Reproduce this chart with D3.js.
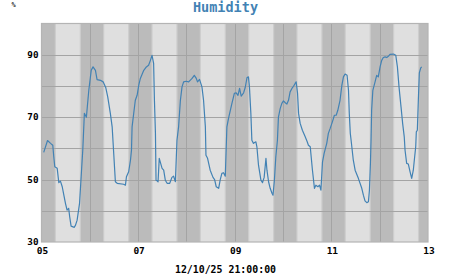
<!DOCTYPE html>
<html>
<head>
<meta charset="utf-8">
<script src="https://cdn.jsdelivr.net/npm/d3@7"></script>
<style>
  body { margin: 0; background: #fff; }
  text { font-family: "DejaVu Sans Mono", monospace; font-weight: bold; }
</style>
</head>
<body>
<script>
// base data: hours since 2025-12-05 00:00 and relative humidity (%)
const hours = [1.1, 3.0, 4.5, 5.6, 6.1, 6.6, 7.8, 8.6, 9.4, 10.3, 11.1, 11.9, 12.7, 13.5, 14.0, 14.7, 16.3, 16.9,
  17.7, 18.9, 19.8, 20.5, 21.3, 21.8, 22.3, 23.5, 24.7, 25.6, 26.8, 27.6, 29.3, 30.6, 31.9, 32.9, 34.2, 35.1,
  36.7, 37.6, 40.8, 41.7, 42.2, 43.3, 44.2, 44.7, 45.0, 46.6, 47.5, 48.3, 49.1, 50.8, 52.1, 53.2, 54.1, 54.9,
  55.7, 56.1, 56.6, 56.9, 57.4, 57.9, 58.5, 59.9, 60.7, 61.5, 62.4, 63.7, 64.8, 65.6, 66.5, 67.3, 68.1, 69.0,
  69.8, 70.6, 71.9, 73.1, 74.8, 75.9, 76.9, 77.5, 78.5, 79.7, 80.5, 81.4, 81.7, 82.5, 83.8, 85.2, 86.0, 86.8,
  88.0, 88.8, 89.6, 90.4, 91.3, 92.1, 92.9, 94.6, 95.8, 96.7, 97.6, 98.4, 99.2, 100.4, 101.2, 102.1, 102.8,
  103.3, 104.0, 104.5, 105.3, 106.5, 107.0, 107.8, 109.0, 109.8, 110.6, 111.5, 112.0, 112.8, 113.6, 114.5,
  115.0, 115.7, 116.4, 117.2, 117.7, 118.6, 119.4, 120.2, 121.1, 121.9, 122.7, 123.5, 124.4, 125.2, 126.0,
  126.5, 127.2, 127.7, 128.5, 129.6, 131.0, 132.0, 132.6, 133.5, 134.6, 135.6, 136.3, 137.3, 138.1, 138.8,
  139.6, 140.4, 141.7, 142.5, 143.4, 144.5, 145.5, 146.4, 147.2, 148.3, 149.2, 150.0, 150.8, 151.8, 152.5,
  152.9, 153.4, 153.8, 154.9, 155.8, 157.4, 159.1, 159.9, 160.7, 161.6, 162.4, 162.9, 163.4, 163.7, 164.0,
  164.6, 165.7, 166.5, 167.3, 168.2, 169.0, 169.8, 170.7, 171.5, 172.3, 173.1, 174.8, 176.0, 176.8, 177.6,
  178.6, 179.4, 180.2, 180.6, 181.4, 182.2, 183.1, 183.9, 184.7, 185.2, 185.9, 186.2, 186.7, 187.2, 187.7,
  188.4, 188.9];
const humidity = [58.7, 62.5, 61.6, 61, 57.3, 54.1, 53.6, 49, 49.5, 47.7, 45, 42.4, 40.2, 40.8, 38.1, 35.1, 34.7, 35.4,
  37, 42.4, 52, 59.4, 71.2, 70.6, 70, 78.6, 85, 86.1, 85, 82, 81.8, 81.3, 79.5, 76.5, 71.2, 66.9,
  49.3, 48.8, 48.5, 48.2, 50.9, 52.5, 56.2, 59.4, 66.9, 75.4, 77, 80.2, 82.4, 85, 86.1, 86.6, 88.2, 89.8,
  87.2, 75.4, 64.9, 49.8, 49.6, 49.3, 56.8, 53.6, 53, 49.8, 48.8, 48.8, 50.7, 51.1, 49.3, 62.6, 66.9, 75.4,
  79.7, 81.3, 81.5, 81.3, 82.4, 83.4, 82.4, 81.3, 82.1, 79.7, 75.4, 66.9, 57.8, 56.8, 53, 50.7, 50, 47.7,
  47.2, 50, 52, 52.2, 51.1, 66.9, 69.6, 74.4, 77.6, 77.8, 77, 79.2, 76.7, 77.8, 79.5, 82.7, 82.9,
  79.7, 71.2, 62.6, 61.6, 62.1, 60.5, 54.6, 49.8, 49, 50.7, 56.8, 53, 49.3, 47.2, 45.6,
  45, 49.8, 57.3, 62.6, 70, 72.8, 74.4, 75.2, 74.6, 74.2, 75.4, 78.1, 79.2, 79.9, 80.8,
  81.3, 77.6, 71.2, 68, 65.8, 63.7, 62.1, 61, 60.5, 53, 47.2, 48.2, 47.7, 48.2, 46.6,
  55.7, 58.4, 61.6, 64.8, 66.4, 68.5, 70.6, 70.6, 72.2, 75.4, 80.2, 82.9, 83.8, 83.4, 78.6,
  71.2, 64.8, 62.6, 56.2, 53, 50.4, 47.2, 45, 43.2, 42.6, 42.9, 46.6, 55.2, 62.6, 72.2,
  78.6, 81.3, 83.4, 82.9, 86.1, 88.2, 89.1, 89.3, 89.1, 89.5, 90.1, 90.2, 89.8, 86.1, 79.7,
  73.3, 68, 63.7, 59.4, 55.2, 55, 52.5, 50.4, 53, 56.2, 60.5, 65.3, 65.8, 75.4, 84.2,
  85.8, 86.1];

// axis labels
const yLabels = [30, 50, 70, 90];
const yGrid = [40, 50, 60, 70, 80, 90];
const dayLabels = ['05', '06', '07', '08', '09', '10', '11', '12', '13'];
const xLabels = ['05', '07', '09', '11', '13'];
const sunriseHour = 6.6;
const sunsetHour = 19.6;
const title = 'Humidity';
const unit = '%';
const timeLabel = '12/10/25 21:00:00';

// constants
const width = 451;
const height = 275;
const margin = { top: 23.5, bottom: 33, left: 41.5, right: 23 };
const start = Date.UTC(2025, 11, 5);
const toDate = (h) => new Date(start + h * 3600e3);
const dayDate = (s) => toDate((+s - 5) * 24);

const svg = d3.select('body').append('svg')
  .attr('width', width).attr('height', height);

const xScale = d3.scaleUtc()
  .domain([toDate(0), toDate(8 * 24)])
  .range([margin.left, width - margin.right]);

const yScale = d3.scaleLinear()
  .domain([30, 100])
  .range([height - margin.bottom, margin.top]);

const [x0, x1] = xScale.range();
const [y0, y1] = yScale.range();

// day background
svg.append('rect').attr('x', x0).attr('y', y1)
  .attr('width', x1 - x0).attr('height', y0 - y1).attr('fill', '#dfdfdf');

// night bands with soft edges
const nights = d3.range(-1, 8).map((d) => [d * 24 + sunsetHour, (d + 1) * 24 + sunriseHour]);
const clampX = (h) => Math.max(x0, Math.min(x1, xScale(toDate(h))));
const bands = svg.append('g');
nights.forEach(([s, e]) => {
  bands.append('rect')
    .attr('x', clampX(s - 0.6)).attr('y', y1)
    .attr('width', clampX(e + 0.6) - clampX(s - 0.6)).attr('height', y0 - y1)
    .attr('fill', '#cdcdcd');
  bands.append('rect')
    .attr('x', clampX(s)).attr('y', y1)
    .attr('width', clampX(e) - clampX(s)).attr('height', y0 - y1)
    .attr('fill', '#bbbbbb');
});

// grid
const grid = svg.append('g').attr('stroke', '#a4a4a4').attr('stroke-width', 1);
grid.selectAll('.h').data(yGrid).enter().append('line')
  .attr('x1', x0).attr('x2', x1)
  .attr('y1', (d) => Math.round(yScale(d)) + 0.5).attr('y2', (d) => Math.round(yScale(d)) + 0.5);
grid.selectAll('.v').data(dayLabels.slice(1, -1)).enter().append('line')
  .attr('y1', y1).attr('y2', y0)
  .attr('x1', (d) => Math.round(xScale(dayDate(d))) + 0.5)
  .attr('x2', (d) => Math.round(xScale(dayDate(d))) + 0.5);

// frame
svg.append('rect').attr('x', x0).attr('y', y1)
  .attr('width', x1 - x0).attr('height', y0 - y1)
  .attr('fill', 'none').attr('stroke', '#b4b4b4').attr('stroke-width', 1.2);

// line
const data = hours.map((h, i) => ({ date: toDate(h), value: humidity[i] }));
const line = d3.line()
  .x((d) => xScale(d.date))
  .y((d) => yScale(d.value));
svg.append('path').datum(data).attr('d', line)
  .attr('fill', 'none').attr('stroke', '#4282b4').attr('stroke-width', 1.2)
  .attr('stroke-linejoin', 'round');

// y labels
svg.append('g').selectAll('text').data(yLabels).enter().append('text')
  .attr('x', 38.5).attr('y', (d) => yScale(d) + 3.3)
  .attr('text-anchor', 'end').attr('font-size', 9.3).attr('fill', '#000')
  .text((d) => d);

// x labels
svg.append('g').selectAll('text').data(xLabels).enter().append('text')
  .attr('x', (d) => xScale(dayDate(d)) + 1).attr('y', 253.5)
  .attr('text-anchor', 'middle').attr('font-size', 9.5).attr('fill', '#000')
  .text((d) => d);

// title, unit and time stamp
svg.append('text').attr('x', 225.5).attr('y', 11.5)
  .attr('text-anchor', 'middle').attr('font-size', 13.5).attr('fill', '#4282b4')
  .text(title);
svg.append('text').attr('x', 13.5).attr('y', 7)
  .attr('text-anchor', 'middle').attr('font-size', 7).attr('font-weight', 'normal').attr('fill', '#333')
  .text(unit);
svg.append('text').attr('x', 225.5).attr('y', 272.5)
  .attr('text-anchor', 'middle').attr('font-size', 9.9).attr('fill', '#000')
  .text(timeLabel);
</script>
</body>
</html>
